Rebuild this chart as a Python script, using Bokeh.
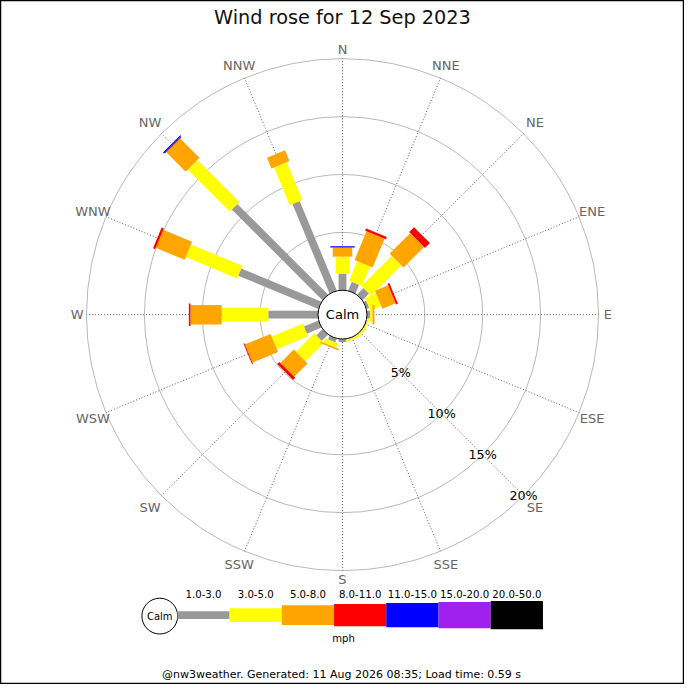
import numpy as np
from bokeh.plotting import figure
from bokeh.models import Range1d, ColumnDataSource
from bokeh.embed import file_html
from bokeh.resources import INLINE
from bokeh.core.properties import value

# ---------------- data ----------------
directions = ["N", "NNE", "NE", "ENE", "E", "ESE", "SE", "SSE",
              "S", "SSW", "SW", "WSW", "W", "WNW", "NW", "NNW"]
speed_bands = ["1.0-3.0", "3.0-5.0", "5.0-8.0", "8.0-11.0",
               "11.0-15.0", "15.0-20.0", "20.0-50.0"]
band_colors = ["#999999", "#ffff00", "#ffa500", "#ff0000",
               "#0000ff", "#a020f0", "#000000"]
# % of the day for each direction, per speed band (mph)
pct_1_3   = [1.44, 0.82, 0.80, 0.25, 0.28, 0.05, 0.05, 0.05, 0.25, 0.35, 0.76, 1.36, 4.30, 7.50, 11.07, 8.37]
pct_3_5   = [1.46, 1.83, 3.70, 1.02, 0.20, 0.15, 0.15, 0.15, 0.00, 0.40, 2.24, 2.91, 4.03, 4.80, 5.13, 3.53]
pct_5_8   = [0.80, 2.69, 2.50, 1.23, 0.17, 0.00, 0.00, 0.00, 0.00, 0.15, 1.64, 2.39, 2.69, 2.70, 2.36, 1.00]
pct_8_11  = [0.00, 0.21, 0.60, 0.17, 0.00, 0.00, 0.00, 0.00, 0.00, 0.00, 0.26, 0.09, 0.14, 0.20, 0.08, 0.00]
pct_11_15 = [0.10, 0.00, 0.00, 0.00, 0.00, 0.00, 0.00, 0.00, 0.00, 0.00, 0.00, 0.00, 0.00, 0.00, 0.12, 0.00]
pct_15_20 = [0.00] * 16
pct_20_50 = [0.00] * 16
ring_pcts = [5, 10, 15, 20]
title_text = "Wind rose for 12 Sep 2023"
unit_text = "mph"
footer_text = "@nw3weather. Generated: 11 Aug 2026 08:35; Load time: 0.59 s"

# ---------------- layout / style ----------------
W = H = 684
S = 700.0
FS = W / S                      # px per data unit
CX, CY = 350.0, S - 321.5       # rose centre (data units)
CALM_R = 25.0
K = 11.85                       # data units per percent
BAR_W = [8, 14, 20, 23, 25, 27, 29]
FONT = value("DejaVu Sans")


def fs(px):
    return "%.1fpx" % (px * FS)


def Y(ref_y):
    return S - ref_y


p = figure(width=W, height=H, x_range=Range1d(0, S), y_range=Range1d(0, S),
           output_backend="svg", toolbar_location=None, min_border=0,
           x_axis_location=None, y_axis_location=None)
p.grid.visible = False
p.outline_line_color = "black"
p.outline_line_width = 1.5
p.background_fill_color = "white"
p.border_fill_color = "white"

theta = np.radians(np.arange(16) * 22.5)
outer_r = CALM_R + K * ring_pcts[-1]

# grid rings
p.circle(x=[CX] * len(ring_pcts), y=[CY] * len(ring_pcts),
         radius=[CALM_R + K * v for v in ring_pcts],
         fill_color=None, line_color="#b0b0b0", line_width=0.9)

# direction spokes
p.segment(x0=CX + CALM_R * np.sin(theta), y0=CY + CALM_R * np.cos(theta),
          x1=CX + outer_r * np.sin(theta), y1=CY + outer_r * np.cos(theta),
          line_color="#333333", line_width=0.8, line_dash="1 2")

# stacked bars
bands = [pct_1_3, pct_3_5, pct_5_8, pct_8_11, pct_11_15, pct_15_20, pct_20_50]
cum = np.zeros(16)
for b, vals in enumerate(bands):
    v = np.array(vals, dtype=float)
    r0 = CALM_R + K * cum
    cum = cum + v
    r1 = CALM_R + K * cum
    m = v > 0
    if not m.any():
        continue
    rc = (r0 + r1) / 2
    src = ColumnDataSource(dict(
        x=CX + rc[m] * np.sin(theta[m]),
        y=CY + rc[m] * np.cos(theta[m]),
        w=(r1 - r0)[m],
        a=np.pi / 2 - theta[m]))
    p.rect(x="x", y="y", width="w", height=BAR_W[b], angle="a", source=src,
           fill_color=band_colors[b], line_color=None)

# calm circle
p.circle(x=[CX], y=[CY], radius=CALM_R, fill_color="white",
         line_color="black", line_width=1)
p.text(x=[CX], y=[CY], text=["Calm"], text_font=FONT, text_font_size=fs(13.3),
       text_align="center", text_baseline="middle", text_color="black")

# direction labels
lab_r = 271.5 + 7 * np.abs(np.sin(2 * theta))
p.text(x=CX + lab_r * np.sin(theta), y=CY + lab_r * np.cos(theta), text=directions,
       text_font=FONT, text_font_size=fs(13.3), text_align="center",
       text_baseline="middle", text_color="#666666")

# ring percentage labels along SE spoke
se = np.radians(135)
rr = np.array([CALM_R + K * v for v in ring_pcts])
p.text(x=CX + rr * np.sin(se), y=CY + rr * np.cos(se),
       text=["%d%%" % v for v in ring_pcts], text_font=FONT,
       text_font_size=fs(13), text_align="center", text_baseline="middle",
       text_color="black")

# title
p.text(x=[S / 2], y=[Y(17)], text=[title_text], text_font=FONT,
       text_font_size=fs(19.8), text_align="center", text_baseline="middle",
       text_color="#111111")

# legend
LEG_Y = Y(629)
LEG_X0 = 181.0
LEG_STEP = 53.45
p.circle(x=[163], y=[Y(630)], radius=18.3, fill_color="white",
         line_color="black", line_width=1)
p.text(x=[163], y=[Y(630)], text=["Calm"], text_font=FONT, text_font_size=fs(10.2),
       text_align="center", text_baseline="middle", text_color="black")
lefts = [LEG_X0 + i * LEG_STEP for i in range(len(speed_bands))]
p.quad(left=lefts, right=[l + LEG_STEP for l in lefts],
       bottom=[LEG_Y - h / 2 for h in BAR_W], top=[LEG_Y + h / 2 for h in BAR_W],
       fill_color=band_colors, line_color=None)
p.text(x=[l + LEG_STEP / 2 for l in lefts], y=[Y(607)] * len(speed_bands),
       text=speed_bands, text_font=FONT, text_font_size=fs(10.4),
       text_align="center", text_baseline="middle", text_color="black")
p.text(x=[351], y=[Y(653)], text=[unit_text], text_font=FONT, text_font_size=fs(10.3),
       text_align="center", text_baseline="middle", text_color="black")

# footer
p.text(x=[349], y=[Y(690)], text=[footer_text], text_font=FONT, text_font_size=fs(11.3),
       text_align="center", text_baseline="middle", text_color="black")

open("out.html", "w").write(file_html(p, INLINE))
